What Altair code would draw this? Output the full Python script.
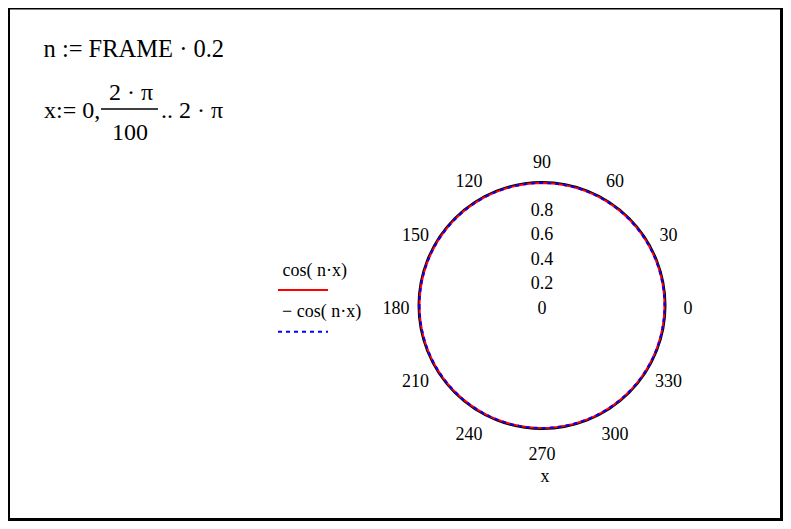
import math
import altair as alt
import pandas as pd

# ---- data (as defined in the worksheet) ----
FRAME = 0
n = FRAME * 0.2
steps = 100                                   # x := 0, 2π/100 .. 2π
x_vals = [k * 2 * math.pi / steps for k in range(steps + 1)]
r_cos = [math.cos(n * x) for x in x_vals]     # cos(n·x)
r_neg = [-math.cos(n * x) for x in x_vals]    # −cos(n·x)
angle_ticks = [0, 30, 60, 90, 120, 150, 180, 210, 240, 270, 300, 330]
radial_ticks = [0, 0.2, 0.4, 0.6, 0.8]
radial_labels = ["0", "0.2", "0.4", "0.6", "0.8"]

# ---- layout (view pixels) ----
W, H = 775, 513
CX, CY, R = 534, 297.5, 122.5
LABEL_R = 146 / R
FONT = "Liberation Serif"

xs = alt.Scale(domain=[-CX / R, (W - CX) / R], nice=False, zero=False)
ys = alt.Scale(domain=[-(H - CY) / R, CY / R], nice=False, zero=False)

rows = []
for i, (x, r) in enumerate(zip(x_vals, r_cos)):
    rows.append({"i": i, "px": r * math.cos(x), "py": r * math.sin(x), "s": "cos"})
for i, (x, r) in enumerate(zip(x_vals, r_neg)):
    rows.append({"i": i, "px": r * math.cos(x), "py": r * math.sin(x), "s": "neg"})
curves = pd.DataFrame(rows)

ang = pd.DataFrame({
    "lab": [str(a) for a in angle_ticks],
    "lx": [LABEL_R * math.cos(math.radians(a)) for a in angle_ticks],
    "ly": [LABEL_R * math.sin(math.radians(a)) for a in angle_ticks],
})
rad = pd.DataFrame({"lab": radial_labels, "lx": [0.0] * len(radial_ticks), "ly": radial_ticks})

X = lambda f: alt.X(f, scale=xs, axis=None)
Y = lambda f: alt.Y(f, scale=ys, axis=None)

one = pd.DataFrame({"a": [0]})


def txt(s, x, y, size=18, align="left", baseline="alphabetic"):
    return alt.Chart(one).mark_text(
        text=s, font=FONT, fontSize=size, align=align, baseline=baseline, color="black"
    ).encode(x=alt.value(x), y=alt.value(y))


def rule(x1, x2, y, color="black", width=1.5, dash=None):
    kw = dict(color=color, strokeWidth=width)
    if dash:
        kw["strokeDash"] = dash
    return alt.Chart(one).mark_rule(**kw).encode(
        x=alt.value(x1), x2=alt.value(x2), y=alt.value(y))


frame = alt.Chart(one).mark_rect(fill=None, stroke="black", strokeWidth=3).encode(
    x=alt.value(0.5), x2=alt.value(W - 1.5), y=alt.value(0), y2=alt.value(H - 1.5))

circle = alt.Chart(pd.DataFrame({"cx": [0.0], "cy": [0.0]})).mark_point(
    shape="circle", size=(2 * R + 2) ** 2, filled=False, stroke="black",
    strokeWidth=2, opacity=1).encode(x=X("cx:Q"), y=Y("cy:Q"))

red = alt.Chart(curves[curves.s == "cos"]).mark_line(
    color="#ff0000", strokeWidth=2).encode(x=X("px:Q"), y=Y("py:Q"), order="i:Q")
blue = alt.Chart(curves[curves.s == "neg"]).mark_line(
    color="#0000ff", strokeWidth=2, strokeDash=[4, 4]).encode(
    x=X("px:Q"), y=Y("py:Q"), order="i:Q")

ang_t = alt.Chart(ang).mark_text(font=FONT, fontSize=18, dy=3, color="black").encode(
    x=X("lx:Q"), y=Y("ly:Q"), text="lab:N")
rad_t = alt.Chart(rad).mark_text(font=FONT, fontSize=18, dy=3, color="black").encode(
    x=X("lx:Q"), y=Y("ly:Q"), text="lab:N")

layers = [
    frame,
    # worksheet formulas
    txt("n := FRAME · 0.2", 35.5, 48.5, 24.5),
    txt("x:= 0,", 36, 109.5, 24),
    txt("2 · π", 123, 92, 24, align="center"),
    rule(93, 150, 101, width=1.5),
    txt("100", 122, 132, 24, align="center"),
    txt(".. 2 · π", 153, 109.5, 24),
    # legend
    txt("cos( n·x)", 274.5, 262.7, 18, baseline="middle"),
    rule(270, 320, 282, color="#ff0000", width=2),
    txt("− cos( n·x)", 274, 303.7, 18, baseline="middle"),
    rule(270, 320, 323.7, color="#0000ff", width=2, dash=[4, 4]),
    # polar plot
    circle, red, blue, ang_t, rad_t,
    txt("x", 537, 469, 18, align="center", baseline="middle"),
]

chart = alt.layer(*layers).properties(
    width=W, height=H, padding=0, autosize=alt.AutoSizeParams(type="none"),
    background="white",
).configure_view(stroke=None)

chart.save("out.html", embed_options={"renderer": "svg", "actions": False})
